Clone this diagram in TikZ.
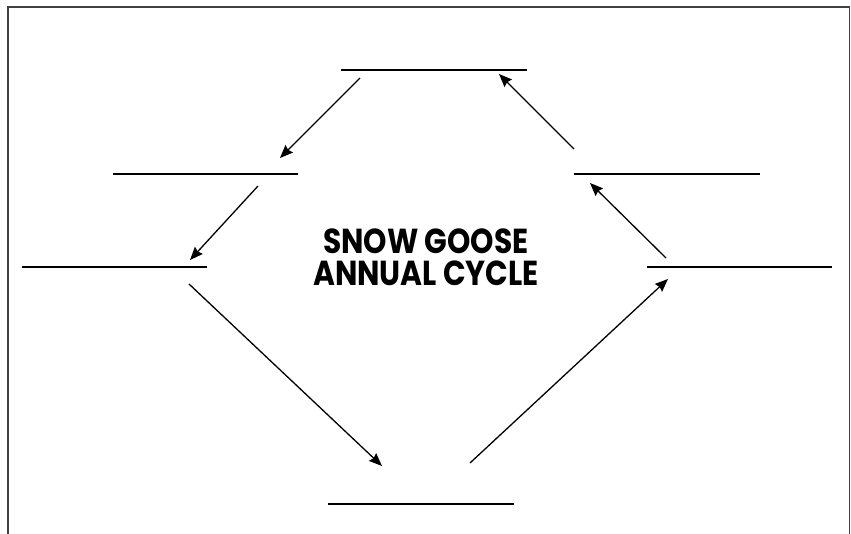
\documentclass[tikz,border=0pt]{standalone}
\usepackage{fontspec}
\newfontfamily\titlefont{Poppins}
\usetikzlibrary{arrows.meta}
\begin{document}
\begin{tikzpicture}[x=1pt,y=-1pt,
  blank/.style={line width=1.6pt},
  conn/.style={line width=1.3pt,-{Stealth[length=13pt,width=10.5pt,inset=1.5pt]}},
  frame/.style={line width=1.5pt,draw=black!75}]
\useasboundingbox (0,0) rectangle (851,534);
% frame (open at bottom)
\draw[frame] (8,560) -- (8,7) -- (849.5,7) -- (849.5,560);
% blank lines
\coordinate (t1) at (341,70);  \coordinate (t2) at (527,70);
\coordinate (ul1) at (113,174); \coordinate (ul2) at (298,174);
\coordinate (ur1) at (574,174); \coordinate (ur2) at (760,174);
\coordinate (ml1) at (22,267);  \coordinate (ml2) at (207,267);
\coordinate (mr1) at (647,267); \coordinate (mr2) at (832,267);
\coordinate (b1) at (328,504);  \coordinate (b2) at (514,504);
\draw[blank] (t1) -- (t2);
\draw[blank] (ul1) -- (ul2);
\draw[blank] (ur1) -- (ur2);
\draw[blank] (ml1) -- (ml2);
\draw[blank] (mr1) -- (mr2);
\draw[blank] (b1) -- (b2);
% arrow ends
\coordinate (a1s) at (360,78);  \coordinate (a1e) at (280,158);
\coordinate (a2s) at (258,186); \coordinate (a2e) at (190,260);
\coordinate (a3s) at (189,284); \coordinate (a3e) at (382,466);
\coordinate (a4s) at (470,463); \coordinate (a4e) at (668,279);
\coordinate (a5s) at (666,258); \coordinate (a5e) at (590,183);
\coordinate (a6s) at (574,149); \coordinate (a6e) at (499,74);
\draw[conn] (a1s) -- (a1e);
\draw[conn] (a2s) -- (a2e);
\draw[conn] (a3s) -- (a3e);
\draw[conn] (a4s) -- (a4e);
\draw[conn] (a5s) -- (a5e);
\draw[conn] (a6s) -- (a6e);
% title
\node[inner sep=0pt] (title) at (426,262) {\scalebox{0.96}[1.12]{\titlefont\bfseries\fontsize{31}{31}\selectfont
  \begin{tabular}{@{}c@{}}SNOW GOOSE\\[-3pt]ANNUAL CYCLE\end{tabular}}};
\end{tikzpicture}
\end{document}
